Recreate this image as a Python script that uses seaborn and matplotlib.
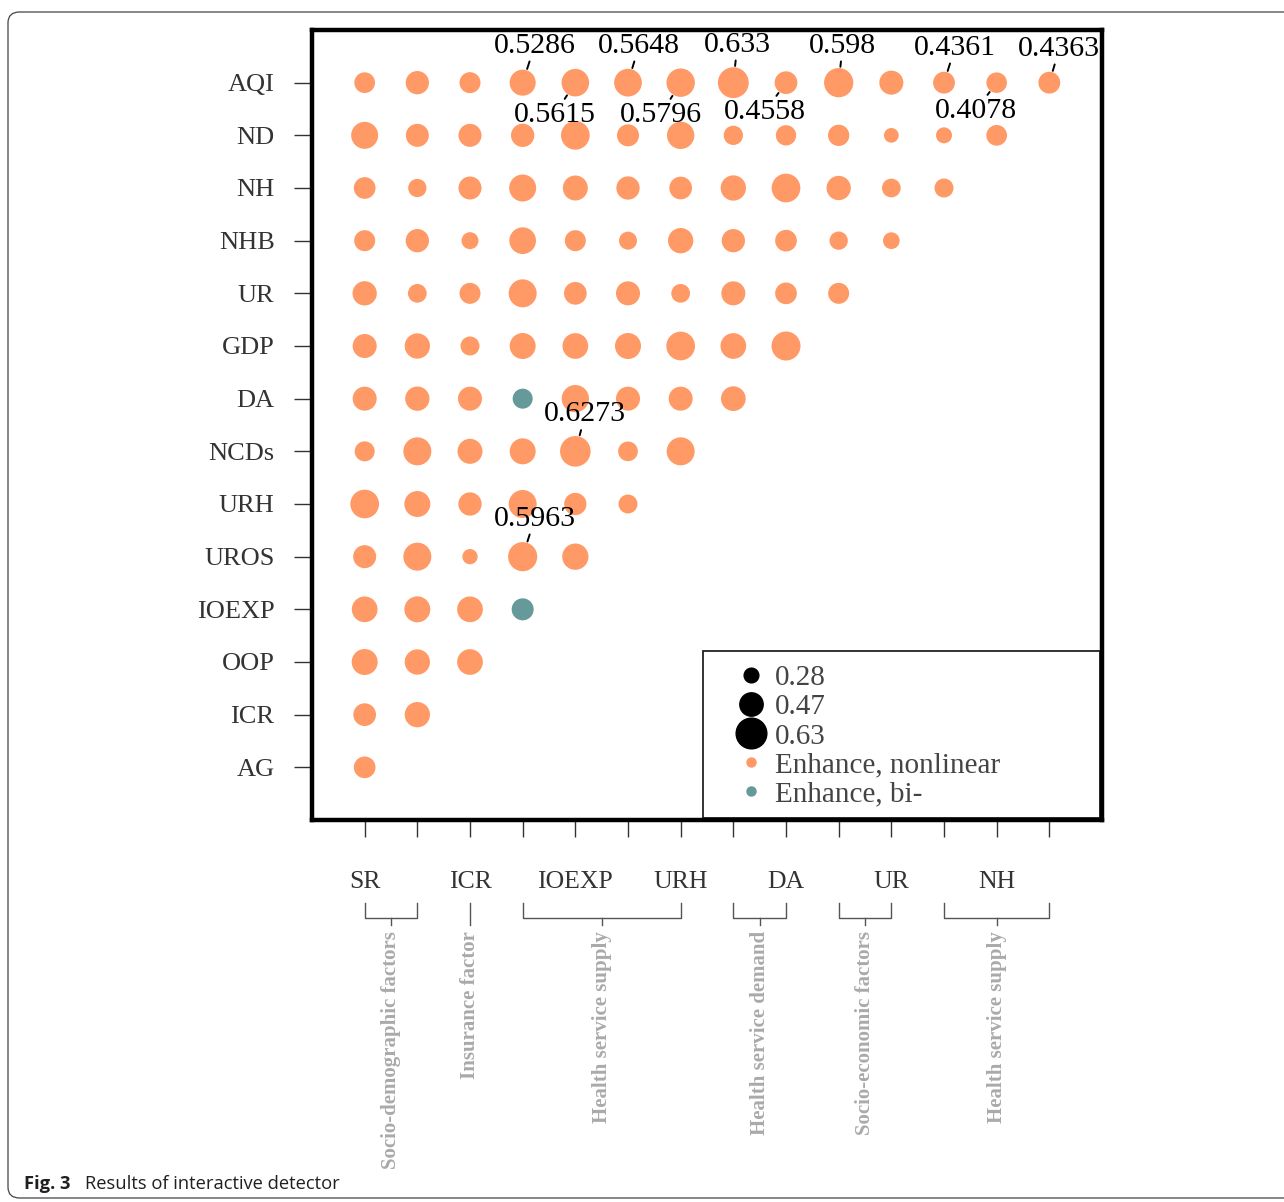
import numpy as np
import pandas as pd
import matplotlib.pyplot as plt
import seaborn as sns
from matplotlib.lines import Line2D
from matplotlib.patches import FancyBboxPatch, Rectangle

plt.rcParams['font.family'] = ['Liberation Serif', 'DejaVu Serif']

# factors on the x axis (left to right) and y axis (top to bottom)
x_vars = ["SR", "AG", "ICR", "OOP", "IOEXP", "UROS", "URH", "NCDs", "DA", "GDP", "UR", "NHB", "NH", "ND"]
y_vars = ["AQI", "ND", "NH", "NHB", "UR", "GDP", "DA", "NCDs", "URH", "UROS", "IOEXP", "OOP", "ICR", "AG"]
x_shown = ["SR", "ICR", "IOEXP", "URH", "DA", "UR", "NH"]

# interaction q values, one list per row, starting at SR
q_AQI = [0.411, 0.468, 0.418, 0.5286, 0.5615, 0.5648, 0.5796, 0.633, 0.4558, 0.598, 0.484, 0.4361, 0.4078, 0.4363]
q_ND = [0.549, 0.462, 0.462, 0.468, 0.586, 0.440, 0.556, 0.381, 0.403, 0.424, 0.280, 0.308, 0.411]
q_NH = [0.433, 0.359, 0.462, 0.549, 0.505, 0.468, 0.455, 0.512, 0.586, 0.490, 0.368, 0.374]
q_NHB = [0.418, 0.468, 0.330, 0.542, 0.418, 0.352, 0.512, 0.468, 0.433, 0.359, 0.324]
q_UR = [0.490, 0.368, 0.418, 0.571, 0.455, 0.484, 0.368, 0.484, 0.433, 0.418]
q_GDP = [0.484, 0.512, 0.374, 0.527, 0.521, 0.527, 0.586, 0.521, 0.593]
q_DA = [0.484, 0.490, 0.484, 0.396, 0.556, 0.484, 0.484, 0.499]
q_NCDs = [0.396, 0.571, 0.505, 0.527, 0.6273, 0.389, 0.571]
q_URH = [0.586, 0.527, 0.468, 0.571, 0.446, 0.374]
q_UROS = [0.462, 0.571, 0.293, 0.5963, 0.534]
q_IOEXP = [0.521, 0.527, 0.521, 0.440]
q_OOP = [0.527, 0.512, 0.521]
q_ICR = [0.455, 0.512]
q_AG = [0.433]
q_rows = [q_AQI, q_ND, q_NH, q_NHB, q_UR, q_GDP, q_DA, q_NCDs, q_URH, q_UROS, q_IOEXP, q_OOP, q_ICR, q_AG]

# pairs with bivariate enhancement (row, column); all others are nonlinear
bi_pairs = [("DA", "OOP"), ("IOEXP", "OOP")]
type_names = ["Enhance, nonlinear", "Enhance, bi-"]
type_colors = ["#FF9966", "#669999"]

# labelled pairs and label offsets (px, from the point)
label_pairs = [("AQI", "OOP"), ("AQI", "IOEXP"), ("AQI", "UROS"), ("AQI", "URH"), ("AQI", "NCDs"),
               ("AQI", "DA"), ("AQI", "GDP"), ("AQI", "NHB"), ("AQI", "NH"), ("AQI", "ND"),
               ("NCDs", "IOEXP"), ("UROS", "OOP")]
label_offsets = [(12, 37), (-21, -32), (11, 37), (-20, -32), (4, 38), (-21, -29), (4, 37),
                 (11, 35), (-21, -28), (10, 34), (10, 37), (12, 38)]

# factor groups under the x axis (first column, last column)
group_names = ["Socio-demographic factors", "Insurance factor", "Health service supply",
               "Health service demand", "Socio-economic factors", "Health service supply"]
group_spans = [(0, 1), (2, 2), (3, 6), (7, 8), (9, 10), (11, 13)]

size_breaks = [0.28, 0.47, 0.63]

records = []
for yname, vals in zip(y_vars, q_rows):
    for j, v in enumerate(vals):
        t = type_names[1] if (yname, x_vars[j]) in bi_pairs else type_names[0]
        records.append({"row": yname, "col": x_vars[j], "x": j,
                        "y": len(y_vars) - 1 - y_vars.index(yname), "q": v, "type": t})
df = pd.DataFrame(records)

PX = 0.72  # points per pixel at dpi 100


def diam_pt(v):
    # bubble diameter grows linearly with q
    return (14.7 + 45.7 * (v - 0.28)) * PX


size_map = {v: diam_pt(v) ** 2 for v in df["q"].unique()}

fig = plt.figure(figsize=(12.84, 12.02), dpi=100)
ax = fig.add_axes([312 / 1284, 1 - 820 / 1202, 790 / 1284, 790 / 1202])

sns.scatterplot(data=df, x="x", y="y", hue="type", size="q", sizes=size_map,
                palette=dict(zip(type_names, type_colors)), hue_order=type_names,
                linewidth=0, alpha=1, legend=False, ax=ax, zorder=3)

ax.set_xlim(-1, 14)
ax.set_ylim(-1, 14)
ax.set_xlabel("")
ax.set_ylabel("")
ax.set_xticks(range(len(x_vars)))
ax.set_xticklabels([c if c in x_shown else "" for c in x_vars])
ax.set_yticks(range(len(y_vars)))
ax.set_yticklabels(y_vars[::-1])
ax.tick_params(axis="y", length=13, width=1, color="#333333", pad=14, labelsize=19, labelcolor="#333333")
ax.tick_params(axis="x", length=12.5, width=1, color="#333333", pad=24, labelsize=18.5, labelcolor="#333333")
for sp in ax.spines.values():
    sp.set_linewidth(3.2)
    sp.set_color("black")
    sp.set_zorder(10)

# value labels with short leader segments
for (r, c), (dx, dy) in zip(label_pairs, label_offsets):
    rec = df[(df["row"] == r) & (df["col"] == c)].iloc[0]
    ax.annotate(f"{rec.q:g}", xy=(rec.x, rec.y), xytext=(dx * PX, dy * PX),
                textcoords="offset points", ha="center", va="center", fontsize=21.5,
                color="black", zorder=6,
                arrowprops=dict(arrowstyle="-", color="black", lw=1.4,
                                shrinkA=0, shrinkB=diam_pt(rec.q) / 2 + 1))

# legend box
ax.add_patch(Rectangle((391 / 790, 2 / 790), 397 / 790, 167 / 790, transform=ax.transAxes,
                       facecolor="white", edgecolor="#222222", lw=1.3, zorder=4))
handles = [Line2D([], [], ls="", marker="o", color="black", markersize=diam_pt(v)) for v in size_breaks]
handles += [Line2D([], [], ls="", marker="o", color=col, markersize=6.5) for col in type_colors]
labels = [f"{v:.2f}" for v in size_breaks] + type_names
leg = ax.legend(handles, labels, loc="upper left", bbox_to_anchor=((730 - 312) / 790, (820 - 665) / 790),
                frameon=False, borderpad=0, borderaxespad=0, handlelength=1.45, handletextpad=0.1,
                labelspacing=0.09, fontsize=21, labelcolor="#444444")
leg.set_zorder(5)

# group brackets and names under the axis
tr = ax.get_xaxis_transform()
y_top, y_bar, y_mid, y_txt = (820 - 903) / 790, (820 - 918) / 790, (820 - 925) / 790, (820 - 931) / 790
for name, (a, b) in zip(group_names, group_spans):
    mid = (a + b) / 2
    if a == b:
        ax.plot([a, a], [y_top, y_mid], color="#555555", lw=1, transform=tr, clip_on=False)
    else:
        ax.plot([a, a, b, b], [y_top, y_bar, y_bar, y_top], color="#555555", lw=1, transform=tr, clip_on=False)
        ax.plot([mid, mid], [y_bar, y_mid], color="#555555", lw=1, transform=tr, clip_on=False)
    ax.text(mid, y_txt, name, rotation=90, ha="center", va="top", transform=tr,
            fontsize=15, fontweight="bold", color="#aaaaaa")

# outer panel and caption
fig.patches.append(FancyBboxPatch((8 / 1284, 4 / 1202), 1.02, 1 - 16 / 1202,
                                  boxstyle="round,pad=0,rounding_size=0.009",
                                  transform=fig.transFigure, fill=False, edgecolor="#444444", lw=0.9))
fig.text(24 / 1284, 1 - 1184 / 1202, "Fig. 3", fontsize=13.2, fontweight="bold", color="#231f20",
         family=["Open Sans", "DejaVu Sans"], va="center")
fig.text(85 / 1284, 1 - 1184 / 1202, "Results of interactive detector", fontsize=13.2, color="#231f20",
         family=["Open Sans", "DejaVu Sans"], va="center")

fig.savefig("out.png", dpi=100)
